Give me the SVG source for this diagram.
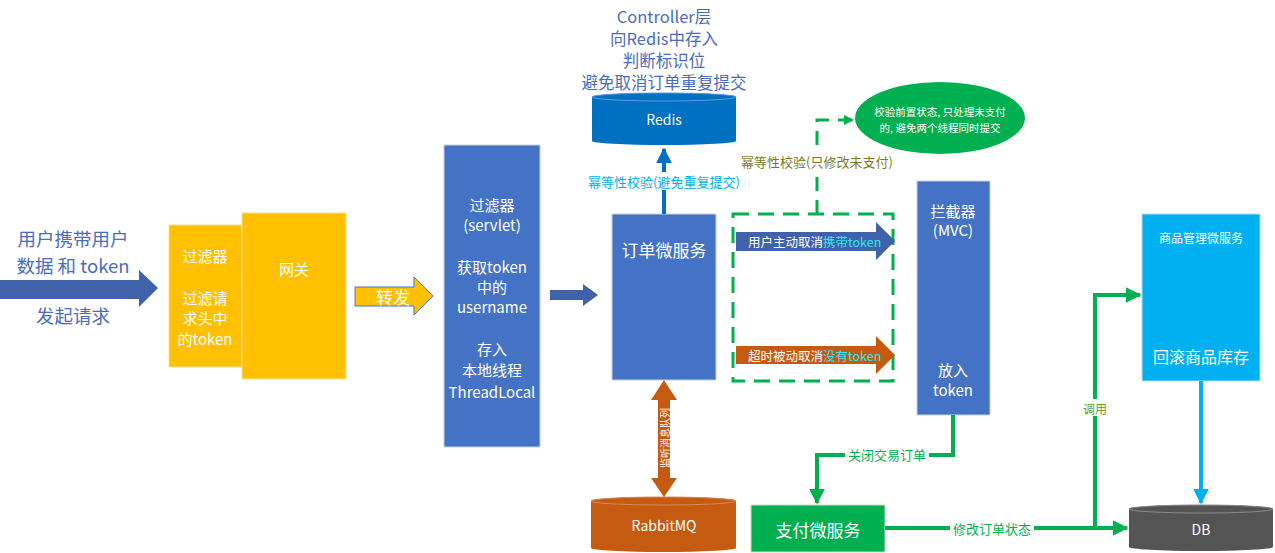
<svg xmlns="http://www.w3.org/2000/svg" width="1275" height="553" viewBox="0 0 1275 553">
<style>
text{font-family:"Noto Sans CJK SC","Liberation Sans",sans-serif;text-anchor:middle;dominant-baseline:central}
.w{fill:#fff}
.w15{fill:#fff;font-size:15px}
.blueTxt{fill:#4A6CC0;font-size:18.5px}
.topTxt{fill:#4A6CC0;font-size:16.5px}
.gline{fill:none;stroke:#00B050;stroke-width:4}
.cy{font-size:12.5px}
</style>
<defs>
<marker id="ga" viewBox="0 0 10 10" refX="9" refY="5" markerWidth="4" markerHeight="4" orient="auto" markerUnits="strokeWidth"><path d="M0,0 L10,5 L0,10 Z" fill="#00B050"/></marker>
<marker id="gd" viewBox="0 0 10 10" refX="9" refY="5" markerWidth="3.5" markerHeight="3.5" orient="auto" markerUnits="strokeWidth"><path d="M0,0 L10,5 L0,10 Z" fill="#00B050"/></marker>
<marker id="ba" viewBox="0 0 10 10" refX="9" refY="5" markerWidth="4" markerHeight="4" orient="auto" markerUnits="strokeWidth"><path d="M0,0 L10,5 L0,10 Z" fill="#0070C0"/></marker>
<marker id="ca" viewBox="0 0 10 10" refX="9" refY="5" markerWidth="4" markerHeight="4" orient="auto" markerUnits="strokeWidth"><path d="M0,0 L10,5 L0,10 Z" fill="#00B0F0"/></marker>
</defs>

<g id="user-request">
<path d="M0,280 H139 V270 L158,288 L139,307 V299 H0 Z" fill="#3F62AA"/>
<text class="blueTxt" x="73" y="238">用户携带用户</text>
<text class="blueTxt" x="73" y="265">数据 和 token</text>
<text class="blueTxt" x="73" y="315">发起请求</text>
</g>

<g id="filter">
<rect x="169" y="225" width="73" height="142" fill="#FFC000" stroke="#F2E0A0" stroke-width="1"/>
<text class="w15" x="205" y="255">过滤器</text>
<text class="w15" x="205" y="297">过滤请</text>
<text class="w15" x="205" y="317">求头中</text>
<text class="w15" x="205" y="338">的token</text>
</g>

<g id="gateway">
<rect x="242" y="213" width="104" height="166" fill="#FFC000" stroke="#F2E0A0" stroke-width="1"/>
<text class="w15" x="294" y="268">网关</text>
</g>

<g id="forward">
<path d="M355,287 H414 V277 L433,296 L414,315 V306 H355 Z" fill="#FFC000" stroke="#4472C4" stroke-width="1"/>
<text class="w" x="393" y="296" font-size="17">转发</text>
</g>

<g id="servlet-filter">
<rect x="444" y="145" width="96" height="302" fill="#4472C4" stroke="#C8D0E0" stroke-width="1"/>
<text class="w15" x="492" y="204">过滤器</text>
<text class="w15" x="492" y="224">(servlet)</text>
<text class="w15" x="492" y="266">获取token</text>
<text class="w15" x="492" y="286">中的</text>
<text class="w15" x="492" y="306">username</text>
<text class="w15" x="492" y="348">存入</text>
<text class="w15" x="492" y="369">本地线程</text>
<text class="w15" x="492" y="391">ThreadLocal</text>
</g>

<g id="to-order">
<path d="M550,290 H583 V284 L598,295 L583,306 V300 H550 Z" fill="#3F62AA"/>
</g>

<g id="controller-note">
<text class="topTxt" x="664" y="16">Controller层</text>
<text class="topTxt" x="664" y="38">向Redis中存入</text>
<text class="topTxt" x="664" y="60">判断标识位</text>
<text class="topTxt" x="664" y="82">避免取消订单重复提交</text>
</g>

<g id="redis">
<path d="M592,97 A72,4 0 0 1 736,97 V141 A72,4 0 0 1 592,141 Z" fill="#0070C0"/>
<ellipse cx="664" cy="97" rx="72" ry="4" fill="#0070C0" stroke="#5A9AD8" stroke-width="1"/>
<text class="w" x="664" y="119" font-size="14">Redis</text>
</g>

<g id="order-service">
<rect x="612" y="214" width="104" height="166" fill="#4472C4" stroke="#C8D0E0" stroke-width="1"/>
<text class="w" x="664" y="249" font-size="17">订单微服务</text>
</g>

<g id="dashed-box">
<rect x="733" y="214" width="160" height="167" fill="none" stroke="#00B050" stroke-width="3" stroke-dasharray="16,9"/>
</g>

<g id="cancel-active">
<path d="M736,232 H876 V222 L895,241 L876,260 V251 H736 Z" fill="#3F62AA"/>
<text x="748" y="241" class="cy" style="text-anchor:start"><tspan fill="#fff">用户主动取消</tspan><tspan fill="#2EE6F0">携带token</tspan></text>
</g>

<g id="cancel-timeout">
<path d="M736,346 H876 V336 L895,355 L876,374 V364 H736 Z" fill="#C55A11"/>
<text x="748" y="355" class="cy" style="text-anchor:start"><tspan fill="#fff">超时被动取消</tspan><tspan fill="#2EE6F0">没有token</tspan></text>
</g>

<g id="check-note">
<ellipse cx="940" cy="118" rx="85" ry="36" fill="#00B050"/>
<text class="w" x="940" y="111" font-size="10.5">校验前置状态, 只处理未支付</text>
<text class="w" x="940" y="127" font-size="10.5">的, 避免两个线程同时提交</text>
</g>

<g id="interceptor">
<rect x="917" y="181" width="73" height="234" fill="#4472C4" stroke="#C8D0E0" stroke-width="1"/>
<text class="w15" x="953" y="210">拦截器</text>
<text class="w15" x="953" y="229">(MVC)</text>
<text class="w15" x="953" y="369">放入</text>
<text class="w15" x="953" y="389">token</text>
</g>

<g id="rabbitmq">
<path d="M591,501 A72.5,4 0 0 1 736,501 V548 A72.5,4 0 0 1 591,548 Z" fill="#C55A11"/>
<ellipse cx="663.5" cy="501" rx="72.5" ry="4" fill="#C55A11" stroke="#D88A5A" stroke-width="1"/>
<text class="w" x="664" y="525" font-size="14">RabbitMQ</text>
</g>

<g id="payment-service">
<rect x="751" y="505" width="134" height="47" fill="#00B050" stroke="#C8E0C8" stroke-width="1"/>
<text class="w" x="818" y="529" font-size="17">支付微服务</text>
</g>

<g id="product-service">
<rect x="1142" y="214" width="118" height="167" fill="#00B0F0" stroke="#B0E0F0" stroke-width="1"/>
<text class="w" x="1201" y="237" font-size="12">商品管理微服务</text>
<text class="w" x="1201" y="356" font-size="16">回滚商品库存</text>
</g>

<g id="db">
<path d="M1129,509 A72,4 0 0 1 1273,509 V547 A72,4 0 0 1 1129,547 Z" fill="#545454"/>
<ellipse cx="1201" cy="509" rx="72" ry="4" fill="#545454" stroke="#8A8A8A" stroke-width="1"/>
<text class="w" x="1201" y="529" font-size="14">DB</text>
</g>

<g id="connectors">
<line x1="664" y1="214" x2="664" y2="149" stroke="#0070C0" stroke-width="4" marker-end="url(#ba)"/>
<rect x="583" y="172" width="162" height="18" fill="#fff"/>
<text x="664" y="181" font-size="13" fill="#00B0F0">幂等性校验(避免重复提交)</text>

<path d="M817,214 V120 H853" fill="none" stroke="#00B050" stroke-width="3" stroke-dasharray="14,9" marker-end="url(#gd)"/>
<rect x="738" y="152" width="158" height="18" fill="#fff"/>
<text x="817" y="161" font-size="13" fill="#7A7A1E">幂等性校验(只修改未支付)</text>

<path d="M664,380 L677,400 H670 V478 H677 L664,497 L651,478 H658 V400 H651 Z" fill="#C55A11"/>
<text class="w" x="664" y="438" font-size="10" transform="rotate(-90 664 438)">监听消息队列</text>

<path class="gline" d="M953,415 V455 H817 V503" marker-end="url(#ga)"/>
<rect x="845" y="446" width="84" height="17" fill="#fff"/>
<text x="887" y="454" font-size="13" fill="#00B050">关闭交易订单</text>

<path class="gline" d="M885,528 H1127" marker-end="url(#ga)"/>
<rect x="950" y="520" width="84" height="17" fill="#fff"/>
<text x="992" y="528" font-size="13" fill="#00B050">修改订单状态</text>

<path class="gline" d="M1095,528 V295 H1140" marker-end="url(#ga)"/>
<rect x="1081" y="399" width="28" height="17" fill="#fff"/>
<text x="1095" y="408" font-size="12" fill="#5FA02A">调用</text>

<line x1="1201" y1="381" x2="1201" y2="503" stroke="#00B0F0" stroke-width="4" marker-end="url(#ca)"/>
</g>
</svg>
